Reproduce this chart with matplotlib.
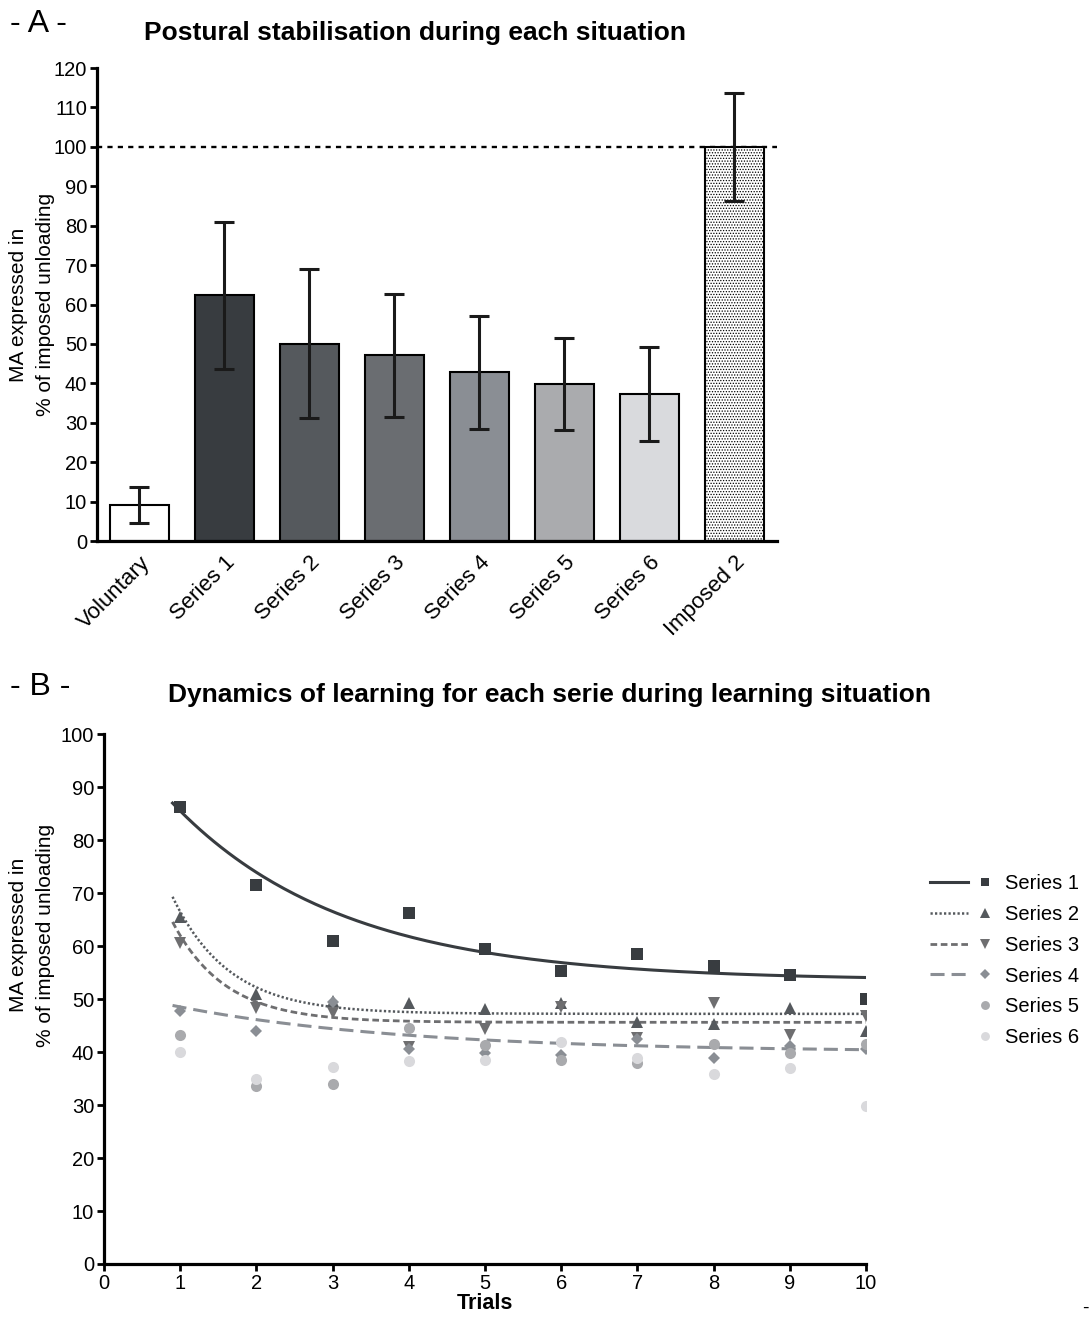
import numpy as np
import matplotlib
matplotlib.use('Agg')
import matplotlib.pyplot as plt
from matplotlib.lines import Line2D
from matplotlib.legend_handler import HandlerBase

plt.rcParams['font.family'] = ['Liberation Sans', 'DejaVu Sans']
plt.rcParams['hatch.linewidth'] = 0.6

# panel A: mean MA (% of imposed unloading) and error
bar_names = ['Voluntary', 'Series 1', 'Series 2', 'Series 3', 'Series 4', 'Series 5', 'Series 6', 'Imposed 2']
bar_means = [9.2, 62.3, 50.1, 47.1, 42.8, 39.8, 37.3, 100.0]
bar_err = [4.5, 18.6, 19.0, 15.7, 14.4, 11.6, 11.9, 13.7]
bar_colors = ['white', '#383c40', '#55595d', '#6a6d71', '#8a8e94', '#aaabae', '#d9dadd', 'white']

# panel B: MA per trial for each series
trials = [1, 2, 3, 4, 5, 6, 7, 8, 9, 10]
series_names = ['Series 1', 'Series 2', 'Series 3', 'Series 4', 'Series 5', 'Series 6']
s1 = [86.2, 71.5, 61.0, 66.3, 59.4, 55.3, 58.5, 56.2, 54.5, 50.0]
s2 = [65.5, 51.0, 49.6, 49.3, 48.2, 49.2, 45.7, 45.3, 48.3, 44.0]
s3 = [60.5, 48.3, 47.3, 41.0, 44.3, 48.5, 42.7, 49.3, 43.3, 46.8]
s4 = [47.8, 44.0, 49.5, 40.6, 39.9, 39.5, 42.5, 38.8, 41.2, 40.5]
s5 = [43.2, 33.6, 34.0, 44.5, 41.3, 38.4, 37.9, 41.5, 39.8, 41.5]
s6 = [40.0, 35.0, 37.2, 38.3, 38.5, 41.8, 38.9, 35.8, 36.9, 29.8]

# one-phase decay fits shown for series 1-4 (plateau, span at trial 1, rate)
fit_plateau = [53.5, 47.2, 45.6, 40.0]
fit_span = [32.0, 19.3, 16.4, 8.5]
fit_rate = [0.45, 1.35, 1.44, 0.33]

colors = ['#383c40', '#55595d', '#6e6e70', '#8a8e94', '#a9aaad', '#d9d9dc']
markers = ['s', '^', 'v', 'D', 'o', 'o']
msizes = [8, 8.5, 8.5, 6, 8, 8]
fit_styles = ['-', (0, (0.9, 0.9)), (0, (2.4, 1.3)), (0, (4.6, 2.3))]
fit_widths = [2.2, 1.8, 2.0, 2.2]


class LineMarkerHandler(HandlerBase):
    # line on the left part of the handle box, marker on its own to the right
    def create_artists(self, legend, orig_handle, xdescent, ydescent, width, height, fontsize, trans):
        ln, mk = orig_handle
        y = height / 2 - ydescent
        arts = []
        if ln is not None:
            l = Line2D([-xdescent, -xdescent + width * 0.6], [y, y])
            l.update_from(ln)
            l.set_marker('None')
            l.set_transform(trans)
            l.set_clip_on(False)
            l.set_clip_box(None)
            arts.append(l)
        m = Line2D([-xdescent + width * 0.88], [y])
        m.update_from(mk)
        m.set_linestyle('None')
        m.set_markersize(mk.get_markersize() * 0.8)
        m.set_transform(trans)
        m.set_clip_on(False)
        m.set_clip_box(None)
        arts.append(m)
        return arts


def style_axes(ax):
    for s in ['top', 'right']:
        ax.spines[s].set_visible(False)
    for s in ['left', 'bottom']:
        ax.spines[s].set_linewidth(2.3)
    ax.tick_params(width=2, length=5, labelsize=14.5, pad=2)


fig = plt.figure(figsize=(10.92, 13.19), dpi=100)

# ---- panel A
axA = fig.add_axes([0.0888, 0.5898, 0.6227, 0.3586])
x = np.arange(len(bar_names))
bars = axA.bar(x, bar_means, width=0.7, color=bar_colors, edgecolor='black', linewidth=1.5, zorder=2)
bars[-1].set_hatch('......')
axA.errorbar(x, bar_means, yerr=bar_err, fmt='none', ecolor='#1a1a1a', elinewidth=2.2,
             capsize=7.5, capthick=2.2, zorder=3)
axA.axhline(100, color='black', linestyle=(0, (2.2, 2.2)), linewidth=1.7, zorder=1)
axA.set_xlim(-0.5, 7.5)
axA.set_ylim(0, 120)
axA.set_yticks(np.arange(0, 121, 10))
axA.set_xticks(x)
style_axes(axA)
axA.set_xticklabels(bar_names, rotation=45, ha='right', rotation_mode='anchor', fontsize=16)
axA.tick_params(axis='x', length=0, pad=8)

fig.text(0.38, 0.975, 'Postural stabilisation during each situation', ha='center', va='center',
         fontsize=19, fontweight='bold')
fig.text(0.009, 0.982, '- A -', ha='left', va='center', fontsize=23)
fig.text(0.017, 0.769, 'MA expressed in', rotation=90, ha='center', va='center', fontsize=15)
fig.text(0.042, 0.769, '% of imposed unloading', rotation=90, ha='center', va='center', fontsize=15)

# ---- panel B
axB = fig.add_axes([0.0952, 0.0417, 0.6978, 0.4018])
data = [s1, s2, s3, s4, s5, s6]
xf = np.linspace(0.9, 10, 200)
handles = []
for i, name in enumerate(series_names):
    mk = axB.plot(trials, data[i], linestyle='none', marker=markers[i], markersize=msizes[i],
                  color=colors[i], markeredgewidth=0, zorder=3)[0]
    ln = None
    if i < len(fit_plateau):
        yf = fit_plateau[i] + fit_span[i] * np.exp(-fit_rate[i] * (xf - 1))
        ln = axB.plot(xf, yf, linestyle=fit_styles[i], linewidth=fit_widths[i], color=colors[i], zorder=2)[0]
    handles.append((ln, mk))

axB.set_xlim(0, 10)
axB.set_ylim(0, 100)
axB.set_xticks(range(0, 11))
axB.set_yticks(range(0, 101, 10))
style_axes(axB)
axB.set_xlabel('Trials', fontsize=15.5, fontweight='bold', labelpad=0)

fig.legend(handles, series_names, handler_map={tuple: LineMarkerHandler()}, loc='upper left',
           bbox_to_anchor=(0.852, 0.337), frameon=False, fontsize=14.5, handlelength=3.1,
           handletextpad=0.6, labelspacing=0.58, borderpad=0, borderaxespad=0)

fig.text(0.503, 0.473, 'Dynamics of learning for each serie during learning situation', ha='center',
         va='center', fontsize=19, fontweight='bold')
fig.text(0.009, 0.479, '- B -', ha='left', va='center', fontsize=23)
fig.text(0.017, 0.291, 'MA expressed in', rotation=90, ha='center', va='center', fontsize=15)
fig.text(0.042, 0.291, '% of imposed unloading', rotation=90, ha='center', va='center', fontsize=15)
fig.text(0.997, 0.008, '-', ha='right', va='center', fontsize=14)

fig.savefig('out.png', dpi=100)
